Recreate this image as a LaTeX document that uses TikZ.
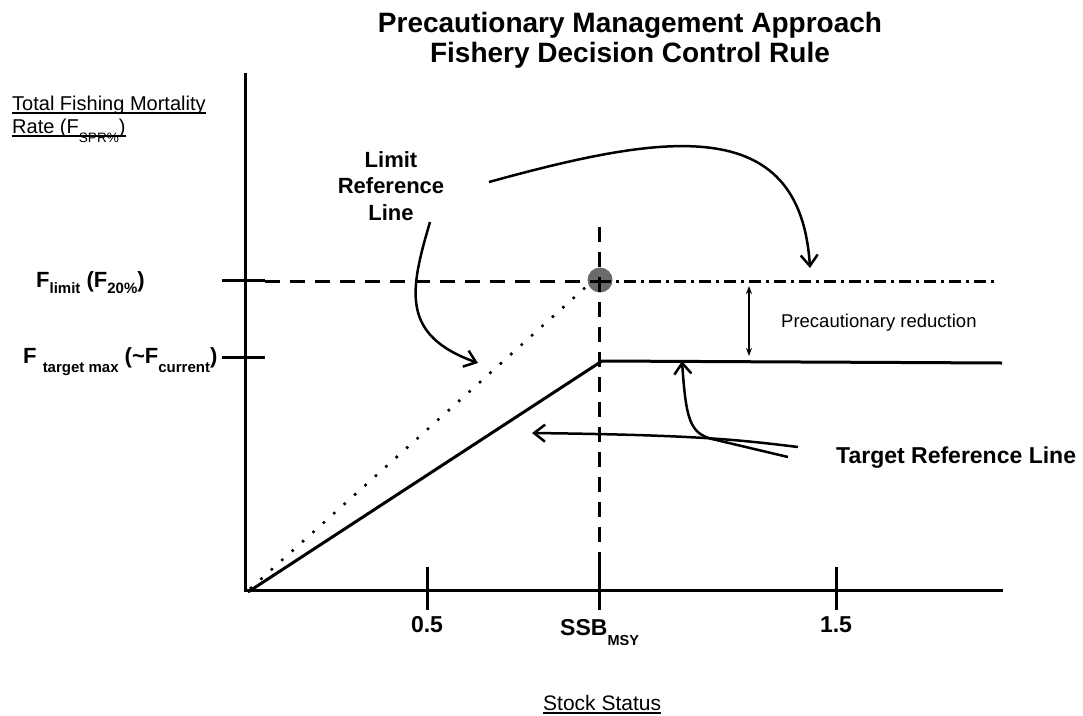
\documentclass[tikz,border=0pt]{standalone}
\usepackage{fontspec}
\setmainfont{Liberation Sans}
\usetikzlibrary{arrows.meta}
\newcommand{\fsz}[1]{\fontsize{#1pt}{#1pt}\selectfont}
\newcommand{\lowsub}[3]{\raisebox{-#1pt}{\fontsize{#2pt}{#2pt}\selectfont #3}}
\begin{document}
\begin{tikzpicture}[x=1pt,y=-1pt,
  axisline/.style={line width=3pt},
  dashline/.style={line width=3pt, dash pattern=on 15pt off 10pt},
  dashdotline/.style={line width=3pt, dash pattern=on 12pt off 5pt on 3pt off 5pt},
  dotline/.style={line width=3.6pt, line cap=round, dash pattern=on 0pt off 14pt},
  curvarrow/.style={line width=2.5pt, -{Straight Barb[length=11pt,width=17pt]}},
  thinarrow/.style={line width=1.2pt, {Stealth[length=8pt,width=6pt]}-{Stealth[length=8pt,width=6pt]}},
  uline/.style={line width=1.3pt},
  lbl/.style={inner sep=0pt}
]
\useasboundingbox (0,0) rectangle (1083,715);

% key coordinates
\coordinate (ytop) at (245,73);
\coordinate (orig) at (245,590);
\coordinate (xend) at (1003,590);
\coordinate (diag0) at (248,592);
\coordinate (corner) at (602,361);
\coordinate (tgtend) at (1002,363);
\coordinate (dot0) at (251,588);
\coordinate (dot1) at (588,285);
\coordinate (lim0) at (265,281);
\coordinate (limmid) at (599,281);
\coordinate (limend) at (996,281);
\coordinate (ssbtop) at (599,227);
\coordinate (ssbbot) at (599,562);
\coordinate (pt) at (600,280);

% title
\node[lbl, anchor=base, font=\bfseries\fsz{28}] (t1) at (630,32) {Precautionary Management Approach};
\node[lbl, anchor=base, font=\bfseries\fsz{28}] (t2) at (630,62) {Fishery Decision Control Rule};

% y-axis label
\node[lbl, anchor=base west, font=\fsz{20}] (yl1) at (12,110) {Total Fishing Mortality};
\node[lbl, anchor=base west, font=\fsz{20}] (yl2) at (12,133) {Rate (F\lowsub{9}{13.6}{SPR\%})};
\draw[uline] ([yshift=-3pt]yl1.base west) -- ([yshift=-3pt]yl1.base east);
\draw[uline] ([yshift=-3pt]yl2.base west) -- ([yshift=-3pt]yl2.base east);

% y tick labels
\node[lbl, anchor=base west, font=\bfseries\fsz{22}] (fl) at (36,287) {F\lowsub{6}{15}{limit} (F\lowsub{6}{15}{20\%})};
\node[lbl, anchor=base west, font=\bfseries\fsz{22}] (ft) at (23,363) {F \lowsub{9}{15}{target max} (\textasciitilde F\lowsub{9}{15}{current})};

% x tick labels
\node[lbl, anchor=base, font=\bfseries\fsz{23}] (x05) at (427,632) {0.5};
\node[lbl, anchor=base west, font=\bfseries\fsz{23}] (xssb) at (560,635) {SSB\lowsub{10}{14.5}{MSY}};
\node[lbl, anchor=base, font=\bfseries\fsz{23}] (x15) at (836,632) {1.5};
\node[lbl, anchor=base west, font=\fsz{21}] (xl) at (543,710) {Stock Status};
\draw[uline] ([yshift=-3pt]xl.base west) -- ([yshift=-3pt]xl.base east);

% annotations
\node[lbl, anchor=base, font=\bfseries\fsz{22}] (lr1) at (391,167) {Limit};
\node[lbl, anchor=base, font=\bfseries\fsz{22}] (lr2) at (391,193) {Reference};
\node[lbl, anchor=base, font=\bfseries\fsz{22}] (lr3) at (391,220) {Line};
\node[lbl, anchor=base west, font=\fsz{18.5}] (pr) at (781,327) {Precautionary reduction};
\node[lbl, anchor=base west, font=\bfseries\fsz{23}] (trl) at (836,463) {Target Reference Line};

% grey point
\fill[black!58] (pt) circle (12.5pt);

% axes and ticks
\draw[axisline] (ytop) -- (orig) -- (xend);
\draw[axisline] (222,280) -- (265,280);
\draw[axisline] (222,357) -- (265,357);
\draw[axisline] (427,567) -- (427,610);
\draw[axisline] (ssbbot) -- (599,610);
\draw[axisline] (836,567) -- (836,610);

% reference lines
\draw[dashline] (lim0) -- (limmid);
\draw[dashdotline] (limmid) -- (limend);
\draw[dashline] (ssbtop) -- (ssbbot);
\draw[dotline] (dot0) -- (dot1);
\draw[line width=3pt, line join=round] (diag0) -- (corner) -- (tgtend);

% precautionary reduction arrow
\coordinate (pa0) at (749,286);
\coordinate (pa1) at (749,356);
\draw[thinarrow] (pa0) -- (pa1);

% limit arrows
\coordinate (la0) at (489,182);
\coordinate (la1) at (810,268);
\draw[curvarrow] (la0) .. controls (660,135) and (800,110) .. (la1);
\coordinate (lb0) at (430,222);
\coordinate (lb1) at (478,363);
\draw[curvarrow] (lb0) .. controls (410,290) and (400,335) .. (lb1);

% target arrows
\coordinate (ta0) at (798,447);
\coordinate (ta1) at (532,433);
\draw[curvarrow] (ta0) .. controls (740,440) and (700,435) .. (ta1);
\coordinate (tb0) at (788,457);
\coordinate (tbm) at (712,439);
\coordinate (tb1) at (682,361);
\draw[curvarrow] (tb0) -- (tbm) .. controls (690,433) and (686,420) .. (tb1);
\end{tikzpicture}
\end{document}
